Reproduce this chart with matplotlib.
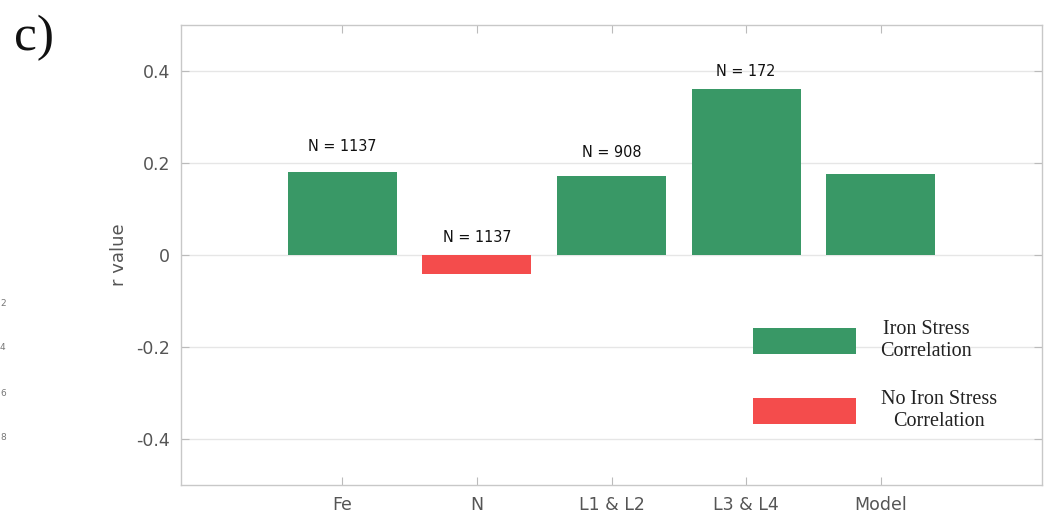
import matplotlib
matplotlib.use("Agg")
import matplotlib.pyplot as plt
from matplotlib.patches import Patch

# Correlation of each predictor with iron stress
categories = ["Fe", "N", "L1 & L2", "L3 & L4", "Model"]
r_values = [0.181, -0.041, 0.172, 0.361, 0.176]
iron_stress = [True, False, True, True, True]
sample_sizes = ["N = 1137", "N = 1137", "N = 908", "N = 172", None]
label_heights = [0.235, 0.037, 0.222, 0.40, None]
y_ticks = [-0.4, -0.2, 0, 0.2, 0.4]
y_tick_labels = ["-0.4", "-0.2", "0", "0.2", "0.4"]
legend_labels = ["Iron Stress\nCorrelation", "No Iron Stress\nCorrelation"]
side_ticks = ["2", "4", "6", "8"]

GREEN = "#399866"
RED = "#f44c4c"
GRAY = "#555555"

fig = plt.figure(figsize=(10.53, 5.19), dpi=100)
ax = fig.add_axes([181 / 1053, 1 - 485 / 519, (1042 - 181) / 1053, (485 - 25) / 519])

x = list(range(1, len(categories) + 1))
colors = [GREEN if s else RED for s in iron_stress]
ax.bar(x, r_values, width=0.81, color=colors, zorder=3)

for xi, txt, h in zip(x, sample_sizes, label_heights):
    if txt is not None:
        ax.text(xi, h, txt, ha="center", va="center", fontsize=11.5,
                family="DejaVu Sans", fontstretch="condensed", color="#111111")

ax.set_xlim(-0.2, 6.2)
ax.set_ylim(-0.5, 0.5)
ax.set_xticks(x)
ax.set_xticklabels(categories)
ax.set_yticks(y_ticks)
ax.set_yticklabels(y_tick_labels)
ax.tick_params(axis="both", direction="in", length=6, width=0.8, color="#bbbbbb",
               labelcolor=GRAY, labelsize=12.5, top=True, right=True, pad=8)
ax.tick_params(axis="x", pad=8)
ax.yaxis.grid(True, color="#e6e6e6", linewidth=1.0, zorder=0)
ax.set_axisbelow(True)
for s in ax.spines.values():
    s.set_color("#c8c8c8")
    s.set_linewidth(1.0)
ax.set_ylabel("r value", fontsize=13, color=GRAY, labelpad=6)

handles = [Patch(facecolor=GREEN, edgecolor="none"), Patch(facecolor=RED, edgecolor="none")]
leg = ax.legend(handles, legend_labels, loc="upper left", bbox_to_anchor=(0.664, 0.358),
                frameon=False, borderpad=0, borderaxespad=0, handlelength=5.15,
                handleheight=1.62, handletextpad=1.2, labelspacing=1.45,
                prop={"family": "Liberation Serif", "size": 14.5})
for t in leg.get_texts():
    t.set_multialignment("center")
    t.set_color("#222222")

fig.text(14 / 1053, 1 - 38 / 519, "c)", fontsize=37, family="Liberation Serif",
         va="center", ha="left", color="#111111")

# clipped tick labels of the neighbouring panel at the left edge
for lbl, yp in zip(side_ticks, [303, 347, 393, 437]):
    fig.text(0.0, 1 - yp / 519, lbl, fontsize=6.5, color="#777777", va="center", ha="left")

fig.savefig("out.png", dpi=100, facecolor="white")
